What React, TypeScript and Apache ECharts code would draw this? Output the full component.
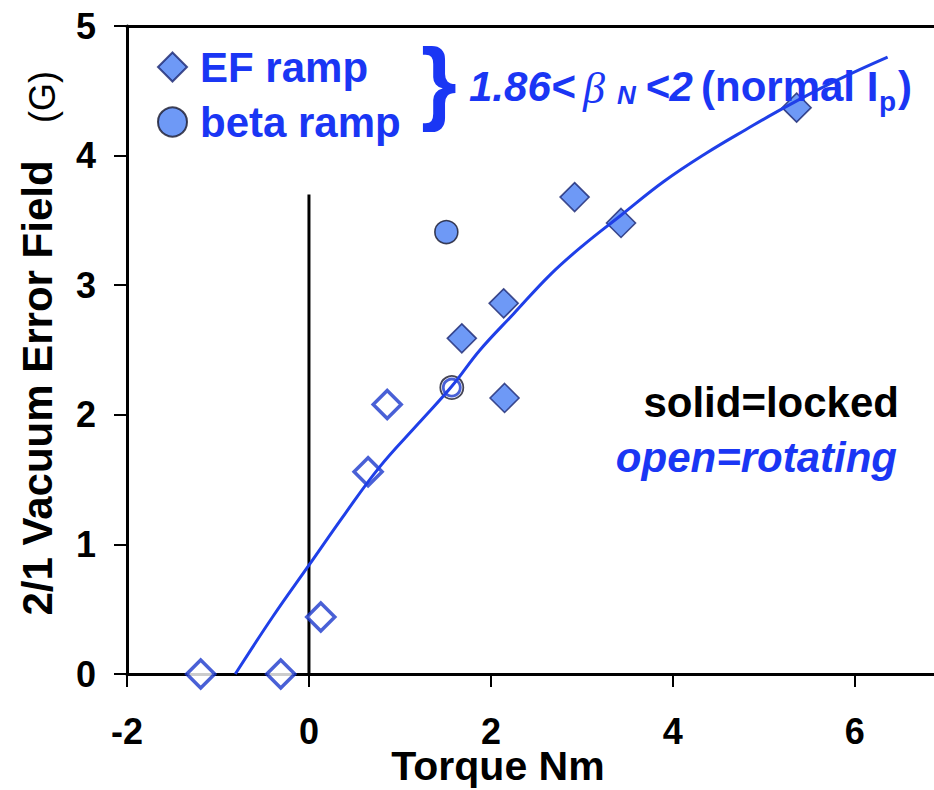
import React, { useEffect, useRef } from "react";
import * as echarts from "echarts";

// Axis ticks
const xTicks = [-2, 0, 2, 4, 6];
const yTicks = [0, 1, 2, 3, 4, 5];

// EF ramp, locked mode (solid diamonds)
const torqueEFLocked = [1.68, 2.14, 2.15, 2.92, 3.43, 5.36];
const fieldEFLocked = [2.59, 2.86, 2.13, 3.68, 3.48, 4.37];

// EF ramp, rotating mode (open diamonds)
const torqueEFRotating = [-1.19, -0.31, 0.13, 0.65, 0.86];
const fieldEFRotating = [0, 0, 0.44, 1.56, 2.08];

// beta ramp, locked (solid circle) and rotating (open circle)
const torqueBetaLocked = [1.51];
const fieldBetaLocked = [3.41];
const torqueBetaRotating = [1.57];
const fieldBetaRotating = [2.21];

// Trend curve through the threshold points
const fitTorque = [-0.81, -0.4, 0, 0.4, 0.78, 1.2, 1.57, 1.88, 2.25, 2.65, 3.0, 3.43, 3.9, 4.37, 4.8, 5.25, 5.8, 6.36];
const fitField = [0, 0.44, 0.84, 1.24, 1.6, 1.93, 2.22, 2.5, 2.78, 3.08, 3.3, 3.54, 3.8, 4.02, 4.2, 4.38, 4.58, 4.76];

// Zero-torque reference line
const zeroTorque = [0, 0];
const zeroLineField = [0, 3.7];

const X_MIN = -2;
const X_MAX = 6.87;

const FONT = '"Liberation Sans", Arial, Helvetica, sans-serif';
const SERIF = '"Liberation Serif", "Times New Roman", serif';
const TEXT_BLUE = "#1a36f4";
const LINE_BLUE = "#1f3fe8";
const FILL_BLUE = "#4a7ff4";
const EDGE_NAVY = "#1a2670";
const OPEN_EDGE = "#1c38cc";

const pairs = (xs: number[], ys: number[]) => xs.map((x, i) => [x, ys[i]]);

export default function App() {
  const ref = useRef<HTMLDivElement>(null);

  useEffect(() => {
    if (!ref.current) return;
    const chart = echarts.init(ref.current, null, { renderer: "svg" });

    const txt = (
      text: string,
      x: number,
      y: number,
      opts: Record<string, any> = {},
      extra: Record<string, any> = {}
    ) => ({
      type: "text",
      x,
      y,
      z: 100,
      ...extra,
      style: {
        text,
        fontFamily: FONT,
        fontSize: 42,
        fontWeight: "bold",
        fill: "#000",
        align: "left",
        verticalAlign: "middle",
        ...opts,
      },
    });

    const tickLabel = {
      fontFamily: FONT,
      fontSize: 36,
      fontWeight: "bold",
      color: "#000",
      lineHeight: 30,
    };

    chart.setOption({
      animation: false,
      backgroundColor: "#ffffff",
      grid: {
        left: 127,
        right: 0,
        top: 26,
        bottom: 116,
        outerBoundsMode: "none",
      },
      legend: {
        orient: "vertical",
        left: 152,
        top: 41,
        itemWidth: 29,
        itemHeight: 29,
        itemGap: 13,
        selectedMode: false,
        textStyle: {
          fontFamily: FONT,
          fontSize: 42,
          fontWeight: "bold",
          color: TEXT_BLUE,
          padding: [0, 0, 0, 8],
        },
        data: [
          { name: "EF ramp", icon: "diamond" },
          { name: "beta ramp", icon: "circle" },
        ],
      },
      xAxis: [
        {
          type: "value",
          min: X_MIN,
          max: X_MAX,
          interval: 2,
          axisLine: { show: true, onZero: false, lineStyle: { color: "#000", width: 3 } },
          axisTick: {
            show: true,
            inside: false,
            length: 13,
            customValues: xTicks,
            lineStyle: { color: "#000", width: 2 },
          },
          axisLabel: { customValues: xTicks, margin: 42, ...tickLabel },
          splitLine: { show: false },
        },
        {
          // frame line along the top of the plot
          type: "value",
          position: "top",
          min: X_MIN,
          max: X_MAX,
          interval: 2,
          axisLine: { show: true, onZero: false, lineStyle: { color: "#000", width: 3 } },
          axisTick: { show: false },
          axisLabel: { show: false },
          splitLine: { show: false },
        },
      ],
      yAxis: {
        type: "value",
        min: 0,
        max: 5,
        interval: 1,
        axisLine: { show: true, onZero: false, lineStyle: { color: "#000", width: 3 } },
        axisTick: {
          show: true,
          inside: false,
          length: 13,
          customValues: yTicks,
          lineStyle: { color: "#000", width: 2 },
        },
        axisLabel: { customValues: yTicks, margin: 31, ...tickLabel },
        splitLine: { show: false },
      },
      series: [
        {
          name: "zero torque",
          type: "line",
          data: pairs(zeroTorque, zeroLineField),
          symbol: "none",
          lineStyle: { color: "#000", width: 3 },
          z: 1,
          silent: true,
        },
        {
          name: "EF ramp (rotating)",
          type: "scatter",
          data: pairs(torqueEFRotating, fieldEFRotating),
          symbol: "diamond",
          symbolSize: 28,
          clip: false,
          itemStyle: { color: "#ffffff", borderColor: OPEN_EDGE, borderWidth: 3.5 },
          z: 3,
        },
        {
          name: "EF ramp",
          type: "scatter",
          data: pairs(torqueEFLocked, fieldEFLocked),
          symbol: "diamond",
          symbolSize: 29,
          clip: false,
          itemStyle: { color: FILL_BLUE, borderColor: EDGE_NAVY, borderWidth: 1.6 },
          z: 3,
        },
        {
          name: "beta ramp",
          type: "scatter",
          data: pairs(torqueBetaLocked, fieldBetaLocked),
          symbol: "circle",
          symbolSize: 23,
          clip: false,
          itemStyle: { color: FILL_BLUE, borderColor: "#15152a", borderWidth: 1.6 },
          z: 3,
        },
        {
          name: "beta ramp (rotating) rim",
          type: "scatter",
          data: pairs(torqueBetaRotating, fieldBetaRotating),
          symbol: "circle",
          symbolSize: 23,
          clip: false,
          itemStyle: { color: "#ffffff", borderColor: "#15152a", borderWidth: 1.8 },
          z: 3,
        },
        {
          name: "beta ramp (rotating)",
          type: "scatter",
          data: pairs(torqueBetaRotating, fieldBetaRotating),
          symbol: "circle",
          symbolSize: 17,
          clip: false,
          itemStyle: { color: "rgba(255,255,255,0)", borderColor: OPEN_EDGE, borderWidth: 2.8 },
          z: 4,
        },
        {
          name: "trend",
          type: "line",
          data: pairs(fitTorque, fitField),
          smooth: 0.4,
          symbol: "none",
          clip: false,
          lineStyle: { color: LINE_BLUE, width: 3 },
          z: 5,
          silent: true,
        },
      ],
      graphic: [
        // brace grouping both ramps
        txt("}", 439, 81, { fontSize: 92, fill: TEXT_BLUE, align: "center" }),
        txt("1.86<", 469, 86, { fontStyle: "italic", fill: TEXT_BLUE }),
        txt("β", 583, 88, { fontFamily: SERIF, fontStyle: "italic", fontWeight: "normal", fontSize: 44, fill: TEXT_BLUE }),
        txt("N", 617, 95, { fontStyle: "italic", fontSize: 26, fill: TEXT_BLUE }),
        txt("<2", 645, 86, { fontStyle: "italic", fill: TEXT_BLUE }),
        txt("(normal I", 701, 86, { fill: TEXT_BLUE }),
        txt("p", 879, 101, { fontSize: 28, fill: TEXT_BLUE }),
        txt(")", 898, 86, { fill: TEXT_BLUE }),
        // marker style key
        txt("solid=locked", 899, 402, { align: "right" }),
        txt("open=rotating", 897, 457, { align: "right", fontStyle: "italic", fill: TEXT_BLUE }),
        // axis titles
        txt("Torque Nm", 498, 766, { align: "center", fontSize: 41 }),
        txt("2/1 Vacuum Error Field", 37, 388, { align: "center" }, { rotation: Math.PI / 2 }),
        txt("(G)", 42, 97, { align: "center", fontWeight: "normal", fontSize: 36 }, { rotation: Math.PI / 2 }),
      ],
    });

    return () => chart.dispose();
  }, []);

  return (
    <div
      ref={ref}
      style={{ position: "absolute", left: 0, top: 0, width: 934, height: 790 }}
    />
  );
}
